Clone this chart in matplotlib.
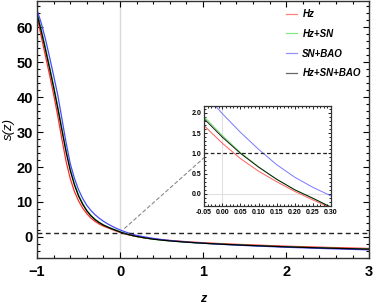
import numpy as np
import matplotlib
matplotlib.use("Agg")
from matplotlib import pyplot as plt
from matplotlib.ticker import MultipleLocator

plt.rcParams['font.family'] = ['Liberation Sans', 'DejaVu Sans']

# valeurs
z = [-1.0, -0.95, -0.9, -0.85, -0.8, -0.75, -0.7, -0.65, -0.6, -0.55, -0.5, -0.45,
     -0.4, -0.35, -0.3, -0.25, -0.2, -0.15, -0.1, -0.05, 0.0, 0.05, 0.1, 0.15, 0.2,
     0.25, 0.3, 0.4, 0.5, 0.6, 0.8, 1.0, 1.25, 1.5, 2.0, 2.5, 3.0]

s_hz = [63.3, 57.5, 52.0, 46.5, 40.8, 34.6, 27.9, 21.6, 16.7, 13.0, 10.3, 8.2,
        6.6, 5.35, 4.4, 3.65, 3.05, 2.6, 2.12, 1.68, 1.25, 0.87, 0.56, 0.30, 0.06,
        -0.15, -0.35, -0.62, -0.85, -1.05, -1.4, -1.7, -2.0, -2.25, -2.7, -3.05, -3.35]

s_hz_sn = [64.3, 59.6, 54.4, 49.0, 43.4, 37.4, 31.1, 24.9, 19.5, 15.3, 12.0, 9.55,
           7.6, 6.15, 5.0, 4.15, 3.42, 2.85, 2.35, 1.90, 1.44, 1.02, 0.67, 0.36, 0.10,
           -0.105, -0.33, -0.68, -0.95, -1.18, -1.55, -1.85, -2.15, -2.42, -2.88, -3.25, -3.55]

s_sn_bao = [65.0, 61.3, 56.8, 51.6, 46.2, 40.6, 33.8, 27.0, 21.0, 16.8, 13.5, 11.0,
            9.0, 7.5, 6.3, 5.3, 4.45, 3.72, 3.07, 2.48, 1.98, 1.52, 1.10, 0.72, 0.41,
            0.16, -0.05, -0.45, -0.78, -1.05, -1.5, -1.85, -2.2, -2.5, -3.0, -3.4, -3.75]

s_all = [63.8, 59.0, 53.8, 48.4, 42.8, 36.8, 30.5, 24.3, 19.0, 14.9, 11.7, 9.3,
         7.4, 6.0, 4.9, 4.05, 3.35, 2.8, 2.3, 1.85, 1.40, 1.0, 0.66, 0.36, 0.10,
         -0.11, -0.33, -0.68, -0.95, -1.18, -1.55, -1.85, -2.15, -2.42, -2.88, -3.25, -3.55]

labels = ["Hz", "Hz+SN", "SN+BAO", "Hz+SN+BAO"]
colors = ["#ff2a2a", "#2ed82e", "#4a4aff", "black"]
series = [s_hz, s_hz_sn, s_sn_bao, s_all]


def frame_ticks(ax, size, lw):
    ax.tick_params(which='both', direction='in', top=True, right=True, width=lw)
    ax.tick_params(which='major', length=size)
    ax.tick_params(which='minor', length=size * 0.55)


fig = plt.figure(figsize=(3.74, 3.05), dpi=100)
ax = fig.add_axes([0.099, 0.155, 0.888, 0.842])

ax.axvline(0, color='#d8d8d8', lw=1.0, zorder=0)
for s, c, lab in zip(series, colors, labels):
    ax.plot(z, s, color=c, lw=0.9, label=lab)
ax.axhline(1, color='#222222', lw=1.0, dashes=(3.5, 2.5))

ax.set_xlim(-1, 3)
ax.set_ylim(-6, 67.6)
ax.xaxis.set_major_locator(MultipleLocator(1))
ax.xaxis.set_minor_locator(MultipleLocator(0.2))
ax.yaxis.set_major_locator(MultipleLocator(10))
ax.yaxis.set_minor_locator(MultipleLocator(2))
frame_ticks(ax, 4, 0.8)
for t in ax.get_xticklabels() + ax.get_yticklabels():
    t.set_fontsize(10.5)
    t.set_fontweight('bold')
ax.tick_params(axis='x', pad=5)
ax.tick_params(axis='y', pad=3)
for sp in ax.spines.values():
    sp.set_linewidth(1.0)
    sp.set_color('#333333')

ax.set_xlabel("z", fontsize=9, style='italic', fontweight='bold', labelpad=10)
ax.set_ylabel("s(z)", fontsize=9.5, style='italic')
ax.yaxis.set_label_coords(-0.066, 0.5)

leg = ax.legend(loc='upper right', frameon=False, fontsize=7, handlelength=1.05,
                handletextpad=0.6, labelspacing=1.0, borderaxespad=0.45)
for t in leg.get_texts():
    t.set_fontstyle('italic')
    t.set_fontweight('bold')
for h in leg.get_lines():
    h.set_alpha(0.6)

# fleche pointillee vers l'encart
ax.annotate("", xy=(1.09, 24.3), xytext=(0.03, 1.9),
            arrowprops=dict(arrowstyle='-', color='#888888', lw=0.8, linestyle=(0, (3, 2.5))))
ax.annotate("", xy=(1.165, 25.3), xytext=(1.09, 24.3),
            arrowprops=dict(arrowstyle='-|>', color='#222222', lw=0.8,
                            mutation_scale=7, shrinkA=0, shrinkB=0))

# encart
ins = fig.add_axes([0.546, 0.3246, 0.339, 0.328])
ins.axvline(0, color='#e0e0e0', lw=0.8, zorder=0)
ins.axhline(0, color='#e0e0e0', lw=0.8, zorder=0)
for s, c in zip(series, colors):
    ins.plot(z, s, color=c, lw=0.7, alpha=0.75 if c != 'black' else 0.9)
ins.axhline(1, color='#222222', lw=0.9, dashes=(3, 2))
ins.set_xlim(-0.05, 0.30)
ins.set_ylim(-0.3, 2.17)
ins.xaxis.set_major_locator(MultipleLocator(0.05))
ins.xaxis.set_minor_locator(MultipleLocator(0.01))
ins.yaxis.set_major_locator(MultipleLocator(0.5))
ins.yaxis.set_minor_locator(MultipleLocator(0.1))
frame_ticks(ins, 2.5, 0.6)
ins.set_xticks([-0.05, 0.0, 0.05, 0.1, 0.15, 0.2, 0.25, 0.3])
ins.set_xticklabels(["-0.05", "0.00", "0.05", "0.10", "0.15", "0.20", "0.25", "0.30"])
ins.set_yticks([0.0, 0.5, 1.0, 1.5, 2.0])
ins.set_yticklabels(["0.0", "0.5", "1.0", "1.5", "2.0"])
for t in ins.get_xticklabels() + ins.get_yticklabels():
    t.set_fontsize(5)
    t.set_fontweight('bold')
ins.tick_params(pad=2)
for sp in ins.spines.values():
    sp.set_linewidth(0.9)
    sp.set_color('#333333')

plt.savefig("out.png", dpi=100)
